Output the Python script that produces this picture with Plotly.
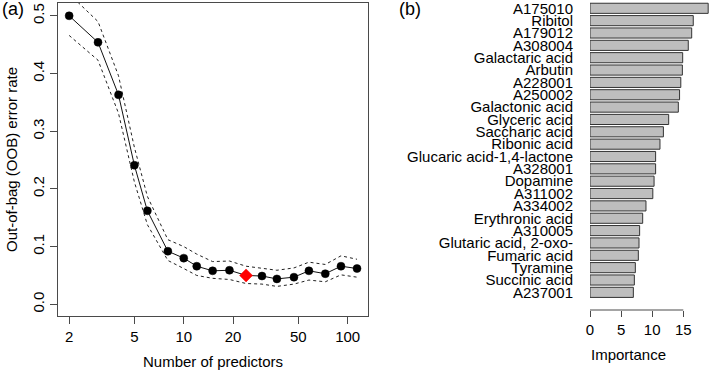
import math
import plotly.graph_objects as go

# ---------------- data ----------------
n_predictors = [2, 3, 4, 5, 6, 8, 10, 12, 15, 19, 24, 30, 37, 47, 58, 73, 91, 114]
oob_error = [0.500, 0.454, 0.363, 0.241, 0.162, 0.092, 0.080, 0.066, 0.058, 0.059,
             0.050, 0.049, 0.044, 0.047, 0.058, 0.053, 0.066, 0.062]
oob_upper = [0.538, 0.490, 0.396, 0.272, 0.187, 0.112, 0.100, 0.087, 0.074, 0.075,
             0.066, 0.063, 0.059, 0.063, 0.073, 0.069, 0.084, 0.078]
oob_lower = [0.466, 0.423, 0.331, 0.212, 0.138, 0.076, 0.062, 0.050, 0.045, 0.043,
             0.036, 0.035, 0.031, 0.035, 0.042, 0.039, 0.051, 0.047]
best_n = 24

x_tick_vals = [2, 5, 10, 20, 50, 100]
y_tick_vals = [0.0, 0.1, 0.2, 0.3, 0.4, 0.5]

features = ["A175010", "Ribitol", "A179012", "A308004", "Galactaric acid", "Arbutin",
            "A228001", "A250002", "Galactonic acid", "Glyceric acid", "Saccharic acid",
            "Ribonic acid", "Glucaric acid-1,4-lactone", "A328001", "Dopamine", "A311002",
            "A334002", "Erythronic acid", "A310005", "Glutaric acid, 2-oxo-",
            "Fumaric acid", "Tyramine", "Succinic acid", "A237001"]
importance = [19.0, 16.6, 16.35, 15.8, 14.9, 14.85, 14.6, 14.4, 14.2, 12.65, 11.8,
              11.25, 10.55, 10.55, 10.3, 10.1, 9.0, 8.47, 7.98, 7.88, 7.77, 7.29,
              7.13, 6.97]
imp_ticks = [0, 5, 10, 15]

# ---------------- figure ----------------
W, H = 709, 370
FONT = "Liberation Sans, Arial, sans-serif"
AXC = "#4a4a4a"

def px_x(p):
    return p / W

def px_y(p):
    return (H - p) / H

fig = go.Figure()

for band in (oob_upper, oob_lower):
    fig.add_trace(go.Scatter(x=n_predictors, y=band, mode="lines",
                             line=dict(color="#222222", width=1, dash="3px,3px"),
                             hoverinfo="skip", showlegend=False, xaxis="x", yaxis="y"))

colors = ["red" if n == best_n else "black" for n in n_predictors]
symbols = ["diamond" if n == best_n else "circle" for n in n_predictors]
sizes = [10 if n == best_n else 8 for n in n_predictors]
fig.add_trace(go.Scatter(x=n_predictors, y=oob_error, mode="lines+markers",
                         line=dict(color="#111111", width=1),
                         marker=dict(color=colors, symbol=symbols, size=sizes,
                                     line=dict(width=0.5, color=colors), opacity=1),
                         showlegend=False, xaxis="x", yaxis="y"))

fig.add_trace(go.Bar(x=importance, y=features, orientation="h", width=0.82,
                     marker=dict(color="#bebebe", line=dict(color="#333333", width=1)),
                     showlegend=False, xaxis="x2", yaxis="y2"))

fig.update_layout(
    width=W, height=H, margin=dict(l=0, r=0, t=0, b=0),
    paper_bgcolor="white", plot_bgcolor="white",
    font=dict(family=FONT, size=15, color="black"),
    xaxis=dict(domain=[px_x(58), px_x(368)], type="log",
               range=[math.log10(1.71), math.log10(133)],
               tickvals=x_tick_vals, ticktext=[str(v) for v in x_tick_vals],
               ticks="outside", ticklen=7, tickcolor=AXC, showgrid=False, zeroline=False,
               showline=True, mirror=True, linecolor=AXC, linewidth=1,
               tickfont=dict(size=15), anchor="y", automargin=False),
    yaxis=dict(domain=[px_y(316), px_y(3)], range=[-0.0203, 0.5222],
               tickvals=y_tick_vals, ticktext=[f"{v:.1f}" for v in y_tick_vals],
               tickangle=-90, ticks="outside", ticklen=7, tickcolor=AXC,
               showgrid=False, zeroline=False, showline=True, mirror=True,
               linecolor=AXC, linewidth=1, tickfont=dict(size=15), anchor="x",
               automargin=False),
    xaxis2=dict(domain=[px_x(590), 1.0], range=[0, 119 / 6.22],
                tickvals=imp_ticks, ticktext=[str(v) for v in imp_ticks],
                ticks="outside", ticklen=6, tickcolor=AXC, showgrid=False,
                zeroline=False, showline=False, tickfont=dict(size=15),
                anchor="y2", automargin=False),
    yaxis2=dict(domain=[px_y(310), 1.0], type="category",
                categoryorder="array", categoryarray=features,
                tickmode="linear", dtick=1, tick0=0,
                range=[(310 - 8.3) / 12.35, -8.3 / 12.35],
                showgrid=False, zeroline=False, showline=False, ticks="",
                ticklabelstandoff=16, tickfont=dict(size=15), anchor="x2",
                automargin=False),
)

fig.add_shape(type="line", xref="x2", yref="paper", x0=imp_ticks[0], x1=imp_ticks[-1],
              y0=px_y(310), y1=px_y(310), line=dict(color=AXC, width=1))

fig.add_annotation(text="Number of predictors", x=px_x(213), y=px_y(361), xref="paper",
                   yref="paper", showarrow=False, xanchor="center", yanchor="middle",
                   font=dict(size=15))
fig.add_annotation(text="Out-of-bag (OOB) error rate", x=px_x(11), y=px_y(160),
                   xref="paper", yref="paper", showarrow=False, textangle=-90,
                   xanchor="center", yanchor="middle", font=dict(size=15))
fig.add_annotation(text="Importance", x=px_x(628), y=px_y(354), xref="paper",
                   yref="paper", showarrow=False, xanchor="center", yanchor="middle",
                   font=dict(size=15))
fig.add_annotation(text="(a)", x=px_x(0), y=px_y(9), xref="paper", yref="paper",
                   showarrow=False, xanchor="left", yanchor="middle", font=dict(size=18))
fig.add_annotation(text="(b)", x=px_x(397), y=px_y(9), xref="paper", yref="paper",
                   showarrow=False, xanchor="left", yanchor="middle", font=dict(size=18))

fig.write_html("out.html", config={"displayModeBar": False},
               post_script="document.body.style.margin='0';document.body.style.overflow='hidden';")
